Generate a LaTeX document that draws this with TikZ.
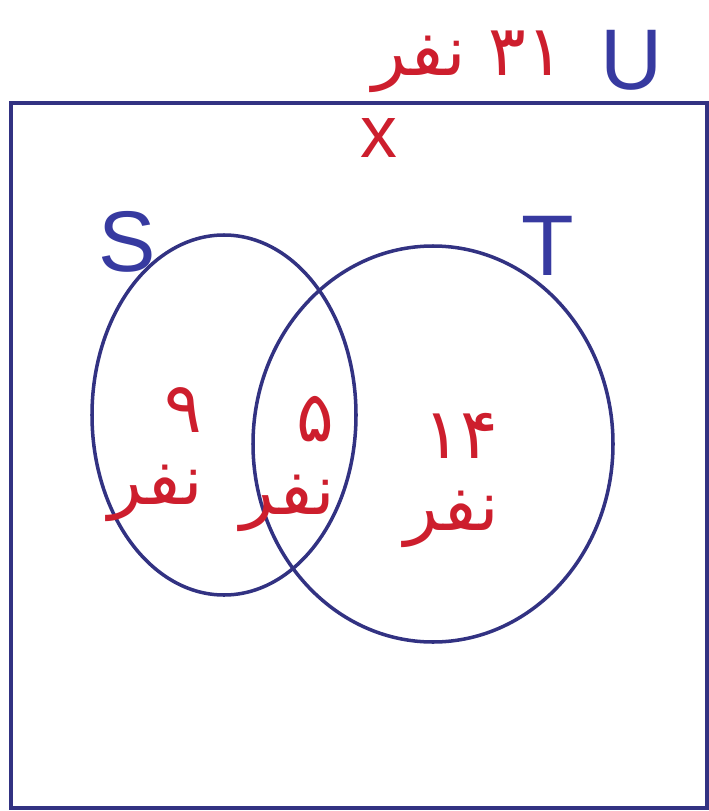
\documentclass[tikz,border=0pt]{standalone}
\usepackage{fontspec}
\setmainfont{Liberation Sans}
\newfontfamily\farsifont[Script=Arabic]{DejaVu Sans}
\TeXXeTstate=1
\definecolor{setblue}{RGB}{55,58,160}
\definecolor{lineblue}{RGB}{50,50,130}
\definecolor{numred}{RGB}{205,30,45}

\begin{document}
\begin{tikzpicture}[
  x=0.02cm, y=-0.02cm,
  setline/.style={draw=lineblue, line width=2pt},
  setname/.style={text=setblue, inner sep=0pt, font=\fontsize{49}{55}\selectfont},
  count/.style={text=numred, inner sep=0pt, align=right, anchor=east,
                font=\farsifont\fontsize{40}{41}\selectfont}
]
\useasboundingbox (0,0) rectangle (709,811);
% --- universe and sets ---
\draw[draw=lineblue, line width=2.4pt] (11,103) rectangle (707,808);
\draw[setline] (224,415) ellipse [x radius=132, y radius=180];
\draw[setline] (433,444) ellipse [x radius=180, y radius=198];
% --- set names ---
\node[setname] (nameU) at (632,60) {U};
\node[setname] (nameS) at (127,242) {S};
\node[setname] (nameT) at (548,246) {T};
\node[text=numred, inner sep=0pt, font=\fontsize{42}{48}\selectfont] (outside) at (379,138) {x};
% --- counts ---
\node[count, anchor=center] (total) at (468,62) {\beginR\beginL ۳۱\endL{} نفر\endR};
\node[count] (onlyS) at (203,455) {۹\\\beginR نفر\endR};
\node[count] (both) at (335,464) {۵\\\beginR نفر\endR};
\node[count] (onlyT) at (499,480) {\beginL ۱۴\endL\\\beginR نفر\endR};
\end{tikzpicture}
\end{document}
